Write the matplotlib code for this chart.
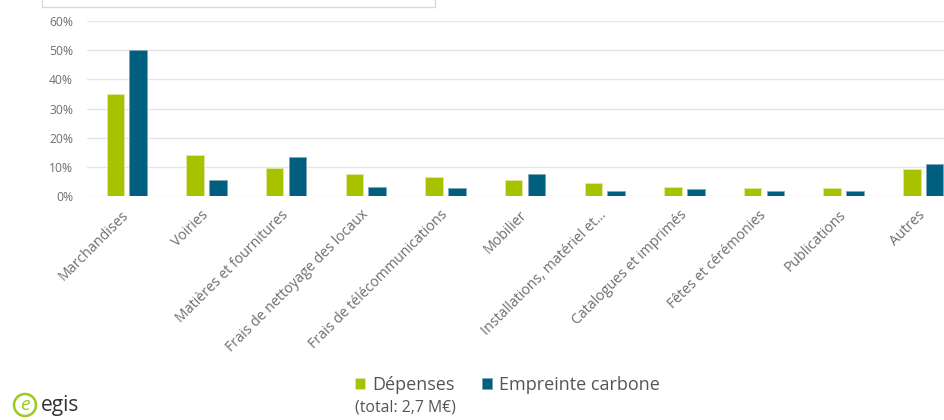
## import libraries ##
import matplotlib.pyplot as plt
import numpy as np
from matplotlib.patches import Rectangle, Ellipse
from matplotlib.ticker import PercentFormatter

plt.rcParams['font.family'] = ['Open Sans', 'DejaVu Sans']

## data ##
categories = ['Marchandises', 'Voiries', 'Matières et fournitures',
              'Frais de nettoyage des locaux', 'Frais de télécommunications',
              'Mobilier', 'Installations, matériel et...', 'Catalogues et imprimés',
              'Fêtes et cérémonies', 'Publications', 'Autres']
depenses = [35.1, 14.0, 9.6, 7.6, 6.4, 5.4, 4.5, 3.1, 2.6, 2.6, 9.1]
empreinte = [50.0, 5.5, 13.5, 3.1, 2.6, 7.4, 1.8, 2.3, 1.8, 1.8, 11.0]
series_names = ['Dépenses', 'Empreinte carbone']
total_note = '(total: 2,7 M€)'

green = '#A9C200'
blue = '#005F7E'
grey_txt = '#6e6e6e'

W, H = 944, 420
fig = plt.figure(figsize=(W / 100, H / 100), dpi=100)
ax = fig.add_axes([87 / W, 1 - 196 / H, (W - 87) / W, (196 - 21) / H])

x = np.arange(len(categories))
bw = 0.22
off = 0.143
b1 = ax.bar(x - off, depenses, bw, color=green, edgecolor='#dfe9a8', linewidth=0.6,
            label=series_names[0], zorder=3)
b2 = ax.bar(x + off, empreinte, bw, color=blue, edgecolor='#7fa9bb', linewidth=0.6,
            label=series_names[1], zorder=3)

ax.set_xlim(-0.5, 10.26)
ax.set_ylim(0, 60)
ax.set_yticks(np.arange(0, 61, 10))
ax.yaxis.set_major_formatter(PercentFormatter(decimals=0))
ax.grid(axis='y', color='#e6e6e6', linewidth=1, zorder=0)
for s in ax.spines.values():
    s.set_visible(False)
ax.tick_params(axis='y', length=0, pad=10, labelsize=8.7, labelcolor=grey_txt)
ax.tick_params(axis='x', length=0, pad=12, labelcolor=grey_txt)
ax.set_xticks(x)
ax.set_xticklabels(categories, rotation=45, ha='right', va='center',
                   rotation_mode='anchor', fontsize=10.2)

## legend ##
fig.legend(handles=[b1, b2], loc='center left', bbox_to_anchor=(355 / W, 1 - 385 / H),
           ncol=2, frameon=False, fontsize=13, handlelength=0.55, handleheight=0.55,
           handletextpad=0.4, columnspacing=1.5, borderaxespad=0, borderpad=0,
           labelcolor='#555555')
fig.text(355 / W, 1 - 408 / H, total_note, fontsize=11.4, color='#555555', va='center')

## top box remnant ##
fig.patches.append(Rectangle((42 / W, 1 - 7 / H), 393 / W, 20 / H, transform=fig.transFigure,
                             fill=False, edgecolor='#d9d9d9', linewidth=1))

## egis logo ##
fig.patches.append(Ellipse((25 / W, 1 - 405 / H), 22 / W, 22 / H, transform=fig.transFigure,
                           fill=False, edgecolor='#9ccb1f', linewidth=1.8))
fig.text(25 / W, 1 - 405 / H, 'e', fontsize=14, color='#9ccb1f', style='italic',
         ha='center', va='center')
fig.text(41 / W, 1 - 405 / H, 'egis', fontsize=15, color='#333333', va='center')

fig.savefig('out.png', dpi=100)
